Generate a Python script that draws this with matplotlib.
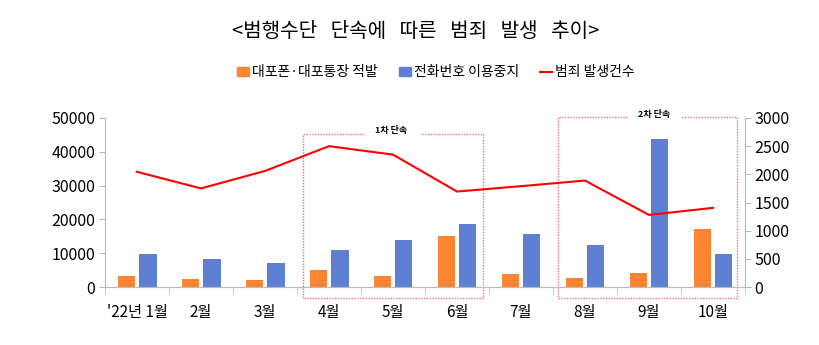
import matplotlib
matplotlib.use("Agg")
import matplotlib.pyplot as plt
import numpy as np

plt.rcParams['font.family'] = ['Noto Sans CJK KR', 'DejaVu Sans']

# 데이터
months = ["'22년 1월", '2월', '3월', '4월', '5월', '6월', '7월', '8월', '9월', '10월']
daepo = [3400, 2400, 2000, 5100, 3350, 14950, 3750, 2650, 4250, 17200]
phone_stop = [9650, 8150, 7200, 10850, 13800, 18700, 15550, 12300, 43900, 9650]
crime = [2045, 1750, 2060, 2500, 2350, 1695, 1790, 1890, 1280, 1405]

c_orange = '#FF8533'
c_blue = '#5F7FD5'
c_red = '#FF0000'
c_box = '#F07080'
num_font = ['Liberation Sans Narrow', 'Noto Sans CJK KR']

fig = plt.figure(figsize=(8.19, 3.45), dpi=100)
ax = fig.add_axes([0.1282, 0.168, 0.7814, 0.49])
ax2 = ax.twinx()

x = np.arange(len(months))
w = 0.27
ax.bar(x - 0.16, daepo, w, color=c_orange, zorder=2)
ax.bar(x + 0.17, phone_stop, w, color=c_blue, zorder=2)
ax2.plot(x, crime, color=c_red, lw=1.5)

ax.set_xlim(-0.5, len(months) - 0.5)
ax.set_ylim(0, 50000)
ax2.set_ylim(0, 3000)
ax.set_yticks(np.arange(0, 50001, 10000))
ax2.set_yticks(np.arange(0, 3001, 500))

ax.set_xticks(x)
ax.set_xticklabels(months, family=num_font, fontsize=11)
ax.set_xticks(np.arange(-0.5, len(months)), minor=True)
ax.tick_params(axis='x', which='major', length=0, pad=12)
ax.tick_params(axis='x', which='minor', length=5, color='#BBBBBB', direction='out')
ax.tick_params(axis='y', length=4, color='#BBBBBB', pad=3)
ax2.tick_params(axis='y', length=4, color='#BBBBBB', pad=3)
for lab in ax.get_yticklabels() + ax2.get_yticklabels():
    lab.set_family(num_font)
    lab.set_fontsize(11.5)

for a in (ax, ax2):
    a.spines['top'].set_visible(False)
    for s in ('left', 'right', 'bottom'):
        a.spines[s].set_color('#BBBBBB')

# 단속 기간 표시 박스 (가운데 라벨 부분은 비움)
def period_box(x0, x1, top, bottom, gap0, gap1, label):
    kw = dict(color=c_box, lw=1, ls=(0, (1, 1)), clip_on=False, zorder=3)
    ax.plot([gap0, x0, x0, x1, x1, gap1], [top, top, bottom, bottom, top, top], **kw)
    ax.annotate(label, ((gap0 + gap1) / 2, top), xytext=(0, 2), textcoords='offset points',
                ha='center', va='center', fontsize=6.5, fontweight='bold',
                annotation_clip=False)

period_box(2.6, 5.4, 45400, -3250, 3.53, 4.42, '1차 단속')
period_box(6.58, 9.37, 50300, -3250, 7.65, 8.5, '2차 단속')

fig.text(0.508, 0.91, '<범행수단   단속에   따른   범죄   발생   추이>', ha='center', va='center',
         fontsize=14.5)

# 범례
from matplotlib.patches import Patch
from matplotlib.lines import Line2D
handles = [Patch(color=c_orange), Patch(color=c_blue), Line2D([], [], color=c_red, lw=1.5)]
fig.legend(handles, ['대포폰·대포통장 적발', '전화번호 이용중지', '범죄 발생건수'],
           loc='center', bbox_to_anchor=(0.532, 0.79), ncol=3, frameon=False,
           fontsize=10, handlelength=0.9, handleheight=0.6, handletextpad=0.2,
           columnspacing=1.5)

fig.savefig('out.png', dpi=100)
